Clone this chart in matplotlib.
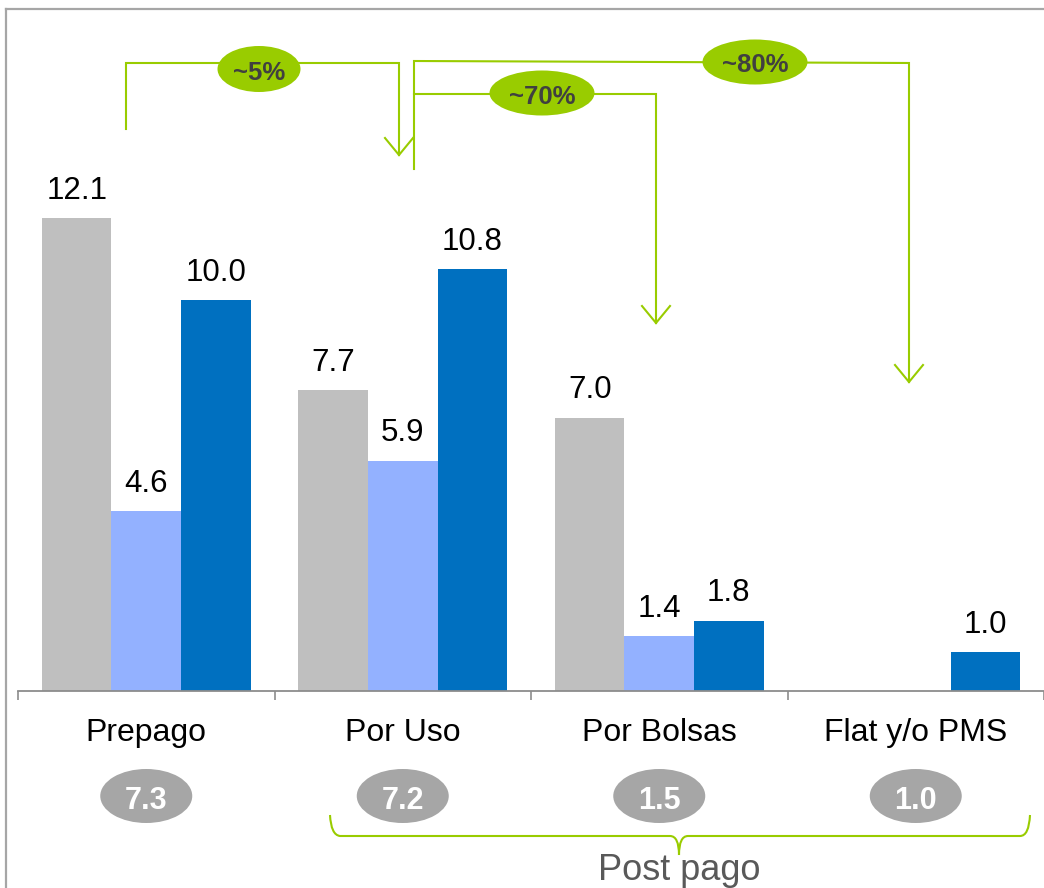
import numpy as np
import matplotlib
matplotlib.use("Agg")
import matplotlib.pyplot as plt
from matplotlib.patches import Ellipse, PathPatch
from matplotlib.path import Path
from matplotlib.lines import Line2D
import matplotlib.transforms as mtransforms

plt.rcParams['font.family'] = ['Liberation Sans', 'DejaVu Sans']

# ---- data ----
categories = ["Prepago", "Por Uso", "Por Bolsas", "Flat y/o PMS"]
serie_gris = [12.1, 7.7, 7.0, np.nan]
serie_celeste = [4.6, 5.9, 1.4, np.nan]
serie_azul = [10.0, 10.8, 1.8, 1.0]
promedios = ["7.3", "7.2", "1.5", "1.0"]
porcentajes = ["~5%", "~70%", "~80%"]
grupo_post = "Post pago"

W, H = 1044, 888
fig = plt.figure(figsize=(W / 100, H / 100), dpi=100)

base_px = 691
ax = fig.add_axes([18 / W, (H - base_px) / H, (W - 18) / W, base_px / H])
ax.set_xlim(-0.5, 3.5)
ax.set_ylim(0, base_px / 39.05)

x = np.arange(len(categories))
bw = 0.271
colors = ["#BFBFBF", "#93B1FF", "#0070C0"]
for i, (vals, c) in enumerate(zip([serie_gris, serie_celeste, serie_azul], colors)):
    xs = x + (i - 1) * bw
    ax.bar(xs, vals, width=bw, color=c, edgecolor='none', zorder=2)
    for xi, v in zip(xs, vals):
        if not np.isnan(v):
            ax.annotate(f"{v:.1f}", (xi, v), xytext=(0, 14), textcoords='offset points',
                        ha='center', va='baseline', fontsize=22.5, color='#000000')

for s in ['top', 'left', 'right']:
    ax.spines[s].set_visible(False)
ax.spines['bottom'].set_color('#8C8C8C')
ax.spines['bottom'].set_linewidth(1.3)
ax.set_yticks([])
ax.set_xticks([])
ax.set_xticks(np.arange(-0.5, 3.6, 1.0), minor=True)
ax.tick_params(axis='x', which='minor', length=6.5, width=1.2, color='#8C8C8C', direction='out')
ax.set_xticklabels([], minor=True)
ax.patch.set_visible(False)

# pixel helper (image pixels, origin top-left) -> figure fraction
def P(px, py):
    return (px / W, 1 - py / H)

blend = mtransforms.blended_transform_factory(ax.transData, fig.transFigure)

# category labels
for xi, lab in zip(x, categories):
    ax.text(xi, 1 - 741 / H, lab, transform=blend, ha='center', va='baseline',
            fontsize=23, color='#000000')

# gray ellipses with averages
for xi, lab in zip(x, promedios):
    e = Ellipse((xi, 1 - 796 / H), width=92 / 256.5, height=54 / H, transform=blend,
                facecolor='#A6A6A6', edgecolor='none', clip_on=False)
    ax.add_patch(e)
    ax.text(xi, 1 - 797 / H, lab, transform=blend, ha='center', va='center_baseline',
            fontsize=22, fontweight='bold', color='white')

# frame lines (left, top)
fig.add_artist(Line2D([6 / W, 6 / W], [0, 1 - 9 / H], color='#A6A6A6', lw=1.6))
fig.add_artist(Line2D([6 / W, 1], [1 - 9 / H, 1 - 9 / H], color='#A6A6A6', lw=1.6))

green = '#99CC00'
lw = 1.5

def poly(pts, **kw):
    xs = [p[0] / W for p in pts]
    ys = [1 - p[1] / H for p in pts]
    fig.add_artist(Line2D(xs, ys, color=green, lw=lw, solid_joinstyle='miter', **kw))

# ~5% arrow
poly([(126, 129), (126, 63), (399, 63), (399, 155)])
poly([(385, 138), (399, 155), (413, 138)])
# trunk
poly([(414, 169), (414, 61), (909, 63), (909, 382)])
poly([(895, 365), (909, 382), (923, 365)])
# ~70%
poly([(414, 94), (656, 94), (656, 323)])
poly([(642, 306), (656, 323), (670, 306)])

def green_ellipse(cx, cy, w, h, label):
    e = Ellipse(P(cx, cy), width=w / W, height=h / H, transform=fig.transFigure,
                facecolor=green, edgecolor='none')
    fig.add_artist(e)
    fig.text(cx / W, 1 - (cy + 1) / H, label, ha='center', va='center_baseline',
             fontsize=18.5, fontweight='bold', color='#404040')

green_ellipse(259, 69, 83, 46, porcentajes[0])
green_ellipse(542, 93, 105, 45, porcentajes[1])
green_ellipse(755, 62, 105, 45, porcentajes[2])

# brace for Post pago
bp = [(330, 815), (331, 835), (340, 836), (670, 836), (679, 836), (679, 855),
      (679, 836), (688, 836), (1020, 836), (1029, 836), (1030, 815)]
codes = [Path.MOVETO, Path.CURVE3, Path.CURVE3, Path.LINETO, Path.CURVE3, Path.CURVE3,
         Path.CURVE3, Path.CURVE3, Path.LINETO, Path.CURVE3, Path.CURVE3]
verts = [P(*p) for p in bp]
fig.add_artist(PathPatch(Path(verts, codes), transform=fig.transFigure, facecolor='none',
                         edgecolor=green, lw=lw))
fig.text(679 / W, 1 - 880 / H, grupo_post, ha='center', va='baseline', fontsize=26,
         color='#595959')

fig.savefig("out.png", dpi=100)
